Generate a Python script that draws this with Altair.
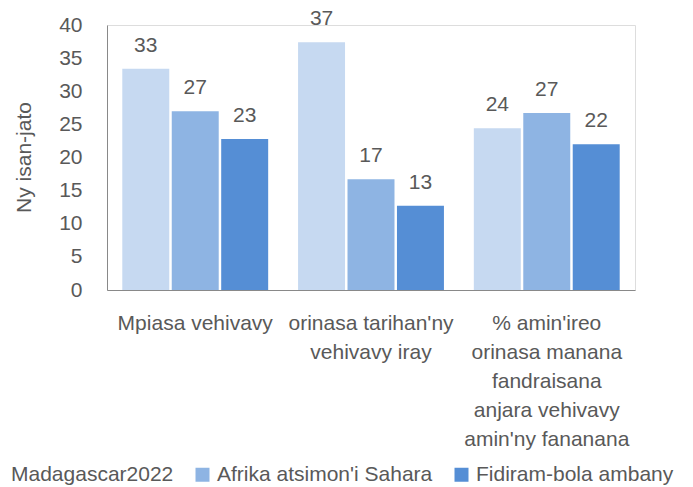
import altair as alt
import pandas as pd

categories = [
    "Mpiasa vehivavy",
    "orinasa tarihan'ny|vehivavy iray",
    "% amin'ireo|orinasa manana|fandraisana|anjara vehivavy|amin'ny fananana",
]
series = ["Madagascar2022", "Afrika atsimon'i Sahara", "Fidiram-bola ambany"]
madagascar = [33.4, 37.4, 24.4]
afrika = [27.0, 16.7, 26.7]
fidiram = [22.8, 12.7, 22.0]
colors = ["#C6D9F1", "#8EB4E3", "#558ED5"]
y_ticks = [0, 5, 10, 15, 20, 25, 30, 35, 40]

rows = []
for s, vals in zip(series, [madagascar, afrika, fidiram]):
    for c, v in zip(categories, vals):
        rows.append({"category": c, "series": s, "value": v})
df = pd.DataFrame(rows)

FONT = "Liberation Sans"
TXT = "#595959"
LINE = "#898989"

base = alt.Chart(df).encode(
    x=alt.X(
        "category:N",
        sort=categories,
        scale=alt.Scale(paddingInner=0.17, paddingOuter=0.087),
        axis=alt.Axis(
            title=None,
            labelExpr="split(datum.label, '|')",
            labelAngle=0,
            labelAlign="center",
            labelBaseline="top",
            labelFontSize=21,
            labelFont=FONT,
            labelColor=TXT,
            labelPadding=22,
            labelLineHeight=29,
            labelLimit=400,
            ticks=False,
            tickSize=0,
            domainColor=LINE,
            domainWidth=1,
        ),
    ),
    xOffset=alt.XOffset(
        "series:N", sort=series, scale=alt.Scale(paddingInner=0.05, paddingOuter=0)
    ),
    y=alt.Y(
        "value:Q",
        scale=alt.Scale(domain=[0, 40], nice=False),
        axis=alt.Axis(
            values=y_ticks,
            grid=False,
            ticks=False,
            tickSize=0,
            labelPadding=25,
            labelFontSize=21,
            labelFont=FONT,
            labelColor=TXT,
            domainColor=LINE,
            domainWidth=1,
            title="Ny isan-jato",
            titleFont=FONT,
            titleFontSize=21,
            titleFontWeight="normal",
            titleColor=TXT,
            titleAngle=270,
            titleAlign="center",
            titleBaseline="alphabetic",
            titleX=-77,
            titleY=132,
        ),
    ),
)

bars = base.mark_bar().encode(
    color=alt.Color(
        "series:N",
        sort=series,
        scale=alt.Scale(domain=series, range=colors),
        legend=alt.Legend(
            title=None,
            orient="none",
            legendX=-121,
            legendY=439,
            direction="horizontal",
            symbolType="square",
            symbolSize=196,
            symbolStrokeWidth=0,
            symbolOpacity=1,
            labelFontSize=21,
            labelFont=FONT,
            labelColor=TXT,
            labelOffset=4,
            columnPadding=18,
            labelLimit=400,
        ),
    )
)

labels = base.mark_text(
    dy=-17, baseline="alphabetic", fontSize=21, font=FONT, color=TXT
).encode(text=alt.Text("value:Q", format=".0f"))

chart = (
    alt.layer(bars, labels)
    .properties(
        width=528,
        height=265,
        autosize=alt.AutoSizeParams(type="none"),
        padding={"left": 99, "top": 17, "right": 50, "bottom": 197},
    )
    .configure_view(stroke=None)
    .configure(font=FONT)
)

chart.save("out.html", embed_options={"renderer": "svg", "actions": False})
